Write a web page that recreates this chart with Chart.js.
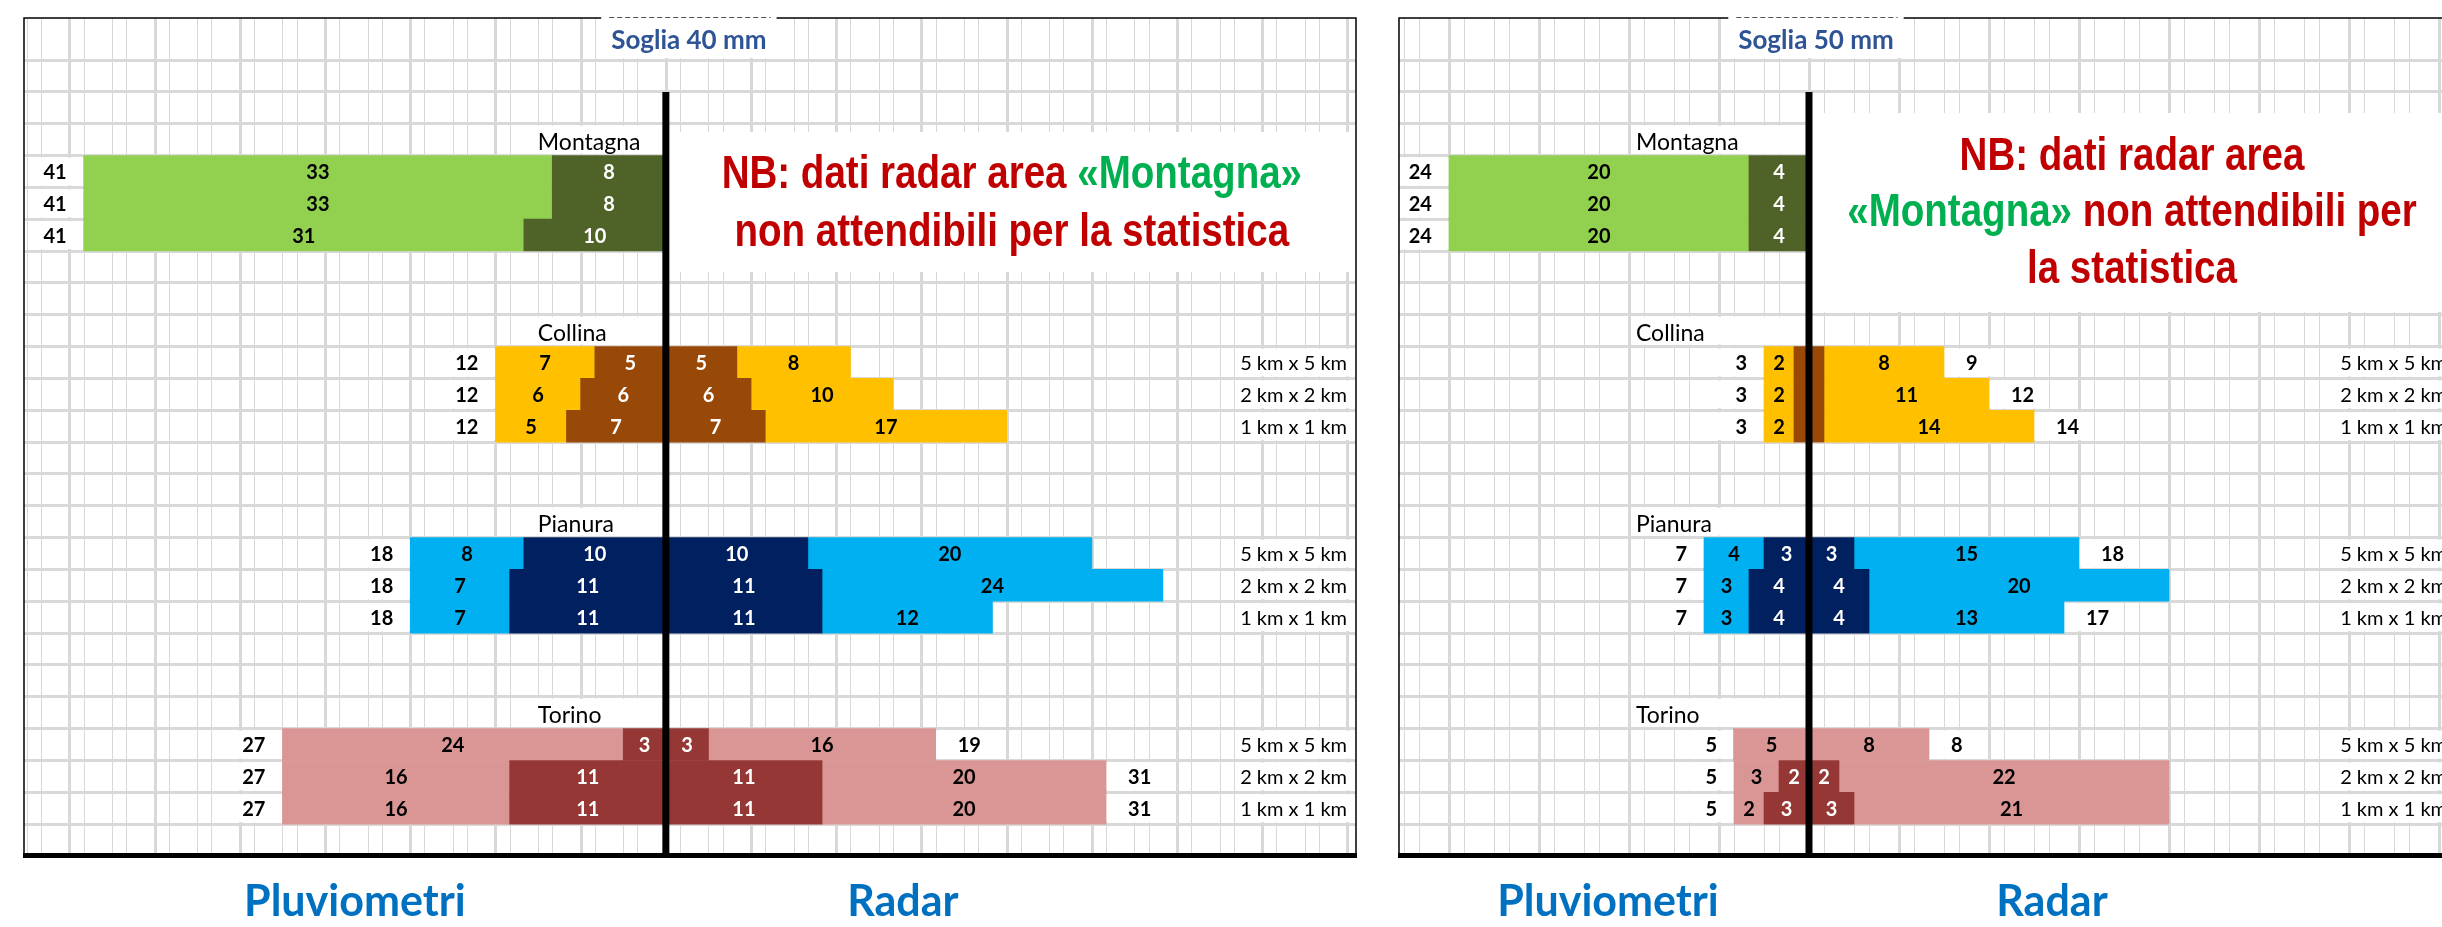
<!DOCTYPE html>
<html lang="it">
<head>
<meta charset="utf-8">
<title>Pluviometri e Radar - Soglia 40 mm / 50 mm</title>
<script src="https://cdn.jsdelivr.net/npm/chart.js@4.4.1/dist/chart.umd.min.js"></script>
<style>
  html, body { margin: 0; padding: 0; background: #fff; overflow: hidden; }
  body { width: 2442px; height: 927px; position: relative; }
  .pannello { position: absolute; top: 0; height: 927px; }
  #p40 { left: 0; width: 1380px; }
  #p50 { left: 1380px; width: 1100px; }
</style>
</head>
<body>
<div class="pannello" id="p40"><canvas id="grafico40"></canvas></div>
<div class="pannello" id="p50"><canvas id="grafico50"></canvas></div>
<script>
const aree = ["Montagna", "Collina", "Pianura", "Torino"];
const risoluzioni = ["5 km x 5 km", "2 km x 2 km", "1 km x 1 km"];

// soglia 40 mm, per area: 5 km, 2 km, 1 km
const pluvTotali40 = [41, 41, 41, 12, 12, 12, 18, 18, 18, 27, 27, 27];
const soloPluv40 = [33, 33, 31, 7, 6, 5, 8, 7, 7, 24, 16, 16];
const comuni40 = [8, 8, 10, 5, 6, 7, 10, 11, 11, 3, 11, 11];
const soloRadar40 = [null, null, null, 8, 10, 17, 20, 24, 12, 16, 20, 20];
const radarTotali40 = [null, null, null, null, null, null, null, null, null, 19, 31, 31];

// soglia 50 mm
const pluvTotali50 = [24, 24, 24, 3, 3, 3, 7, 7, 7, 5, 5, 5];
const soloPluv50 = [20, 20, 20, 2, 2, 2, 4, 3, 3, 5, 3, 2];
const comuni50 = [4, 4, 4, 1, 1, 1, 3, 4, 4, 0, 2, 3];
const soloRadar50 = [null, null, null, 8, 11, 14, 15, 20, 13, 8, 22, 21];
const radarTotali50 = [null, null, null, 9, 12, 14, 18, null, 17, 8, null, null];

const coloriChiari = ["#92D050", "#FFC000", "#00B0F0", "#DA9694"];
const coloriScuri = ["#4F6228", "#984807", "#002060", "#953735"];
const rosso = "#C00000", verde = "#00B050";

const CORNICE_TOP = 18;
const LINEA_TOP = 92;
const FONT_NUMERI = "bold 20px Lato";
const FONT_RIS = "20px Lato";
const FONT_AREA = "23px Lato";
const FONT_TITOLO = "bold 26px Lato";
const FONT_BASSO = "bold 43px Lato";

// righe del foglio: 2 vuote, nome area, 3 risoluzioni ... + 1 vuota finale
const righe = [];
aree.forEach((area, a) => {
    righe.push({ tipo: "vuota" }, { tipo: "vuota" }, { tipo: "area", area: a });
    risoluzioni.forEach((r, k) => righe.push({ tipo: "barra", area: a, k: k, i: a * 3 + k }));
});
righe.push({ tipo: "vuota" });

function perRiga(valori, segno, filtro) {
    return righe.map(r => {
        if (r.tipo !== "barra" || valori[r.i] == null) return null;
        if (filtro && filtro[r.i] == null) return null;
        return segno * valori[r.i];
    });
}

function colore(ctx, scuro) {
    const r = righe[ctx.dataIndex];
    if (!r || r.tipo !== "barra") return "rgba(0,0,0,0)";
    return scuro ? coloriScuri[r.area] : coloriChiari[r.area];
}

function fontStretto(ctx, size) {
    ctx.font = `bold ${size}px "Liberation Sans Narrow", "Liberation Sans"`;
    const w1 = ctx.measureText("NB: dati radar area").width;
    ctx.font = `bold ${size}px "Liberation Sans"`;
    const w2 = ctx.measureText("NB: dati radar area").width;
    if (w1 < w2 * 0.9) return { font: `bold ${size}px "Liberation Sans Narrow"`, sx: 1 };
    return { font: `bold ${size}px "Liberation Sans"`, sx: 0.82 };
}

function rigaNB(ctx, pezzi, xc, yc, f) {
    ctx.font = f.font;
    const tot = pezzi.reduce((s, g) => s + ctx.measureText(g[0]).width, 0);
    ctx.save();
    ctx.translate(xc - tot * f.sx / 2, yc);
    ctx.scale(f.sx, 1);
    ctx.textAlign = "left";
    ctx.textBaseline = "middle";
    let xx = 0;
    pezzi.forEach(g => {
        ctx.fillStyle = g[1];
        ctx.fillText(g[0], xx, 0);
        xx += ctx.measureText(g[0]).width;
    });
    ctx.restore();
}

function creaFoglio(p) {
    return {
        id: "foglio",
        beforeDatasetsDraw(chart) {
            const { ctx, chartArea: ca, scales: { x, y } } = chart;
            const cx = x.getPixelForValue(0);
            const h = y.getPixelForValue(1) - y.getPixelForValue(0);
            ctx.save();
            // colonne del foglio
            for (let v = Math.ceil(x.min); v <= Math.floor(x.max); v++) {
                const m = ((v % 3) + 3) % 3;
                if (m === 2) continue;
                const px = Math.round(x.getPixelForValue(v)) + 0.5;
                ctx.beginPath();
                ctx.strokeStyle = "#d8d8d8";
                ctx.lineWidth = (((v % 6) + 6) % 6 === 0) ? 3 : 1;
                ctx.moveTo(px, CORNICE_TOP);
                ctx.lineTo(px, ca.bottom);
                ctx.stroke();
            }
            ctx.fillStyle = "#fff";
            ctx.font = FONT_TITOLO;
            const wt = ctx.measureText(p.titolo).width + 20;
            ctx.fillRect(cx + p.titoloDx - wt / 2, CORNICE_TOP, wt, ca.top - CORNICE_TOP - 2);
            ctx.fillRect(cx + 3, p.nb.top, ca.right - cx - 3, p.nb.bottom - p.nb.top);
            righe.forEach((r, j) => {
                const yc = y.getPixelForValue(j);
                const y0 = yc - h / 2 + 2, hh = h - 4;
                if (r.tipo === "area") ctx.fillRect(cx + p.areaDx - 4, y0, -p.areaDx + 1, hh);
                if (r.tipo !== "barra") return;
                const i = r.i;
                const inizio = x.getPixelForValue(-(p.comuni[i] + p.soloPluv[i]));
                const da = Math.max(ca.left + 1, inizio - 50);
                ctx.fillRect(da, y0, inizio - da, hh);
                if (p.soloRadar[i] != null) {
                    ctx.fillRect(ca.right - 120, y0, 119, hh);
                    if (p.radarTot[i] != null) {
                        ctx.fillRect(x.getPixelForValue(p.comuni[i] + p.soloRadar[i]), y0, 54, hh);
                    }
                }
            });
            ctx.restore();
        },
        afterDatasetsDraw(chart) {
            const { ctx, chartArea: ca, scales: { x, y } } = chart;
            const cx = x.getPixelForValue(0);
            ctx.save();
            ctx.textBaseline = "middle";

            // valori dentro i segmenti
            ctx.font = FONT_NUMERI;
            ctx.textAlign = "center";
            chart.data.datasets.forEach((ds, d) => {
                chart.getDatasetMeta(d).data.forEach((el, j) => {
                    const v = ds.data[j];
                    if (v == null || Math.abs(el.x - el.base) < 24) return;
                    ctx.fillStyle = ds.scuro ? "#fff" : "#000";
                    ctx.fillText(String(Math.abs(v)), (el.x + el.base) / 2, el.y + 1);
                });
            });

            // totali, nomi aree, risoluzioni
            ctx.fillStyle = "#000";
            righe.forEach((r, j) => {
                const yc = y.getPixelForValue(j) + 1;
                if (r.tipo === "area") {
                    ctx.font = FONT_AREA;
                    ctx.textAlign = "left";
                    ctx.fillText(aree[r.area], cx + p.areaDx, yc + 2);
                }
                if (r.tipo !== "barra") return;
                const i = r.i;
                ctx.font = FONT_NUMERI;
                ctx.textAlign = "right";
                ctx.fillText(String(p.pluvTot[i]), x.getPixelForValue(-(p.comuni[i] + p.soloPluv[i])) - 17, yc);
                if (p.soloRadar[i] == null) return;
                if (p.radarTot[i] != null) {
                    ctx.textAlign = "left";
                    ctx.fillText(String(p.radarTot[i]), x.getPixelForValue(p.comuni[i] + p.soloRadar[i]) + 22, yc);
                }
                ctx.font = FONT_RIS;
                ctx.textAlign = "right";
                ctx.fillText(risoluzioni[r.k], ca.right - 9, yc);
            });

            // linea centrale
            ctx.fillStyle = "#000";
            ctx.fillRect(cx - 3.5, LINEA_TOP, 7, ca.bottom - LINEA_TOP);

            // cornice
            ctx.strokeStyle = "#000";
            ctx.lineWidth = 1.5;
            ctx.beginPath();
            ctx.moveTo(ca.left, ca.bottom);
            ctx.lineTo(ca.left, CORNICE_TOP);
            ctx.lineTo(ca.right, CORNICE_TOP);
            ctx.lineTo(ca.right, ca.bottom);
            ctx.stroke();
            ctx.fillRect(ca.left - 1, ca.bottom - 3, ca.right - ca.left + 2, 5);

            // titolo soglia
            const tx = cx + p.titoloDx;
            ctx.font = FONT_TITOLO;
            ctx.textAlign = "center";
            const wt = ctx.measureText(p.titolo).width + 20;
            ctx.fillStyle = "#fff";
            ctx.fillRect(tx - wt / 2, CORNICE_TOP - 2, wt, 4);
            ctx.strokeStyle = "#555";
            ctx.lineWidth = 1;
            ctx.setLineDash([5, 3]);
            ctx.beginPath();
            ctx.moveTo(tx - wt / 2 + 8, CORNICE_TOP - 0.5);
            ctx.lineTo(tx + wt / 2 - 6, CORNICE_TOP - 0.5);
            ctx.stroke();
            ctx.setLineDash([]);
            ctx.fillStyle = "#2F5496";
            ctx.fillText(p.titolo, tx, 41);

            // nota
            const f = fontStretto(ctx, 47);
            p.nb.righe.forEach((pezzi, k) => rigaNB(ctx, pezzi, cx + p.nb.dx, p.nb.y[k], f));

            // etichette in basso
            ctx.font = FONT_BASSO;
            ctx.textAlign = "center";
            ctx.textBaseline = "middle";
            ctx.fillStyle = "#0070C0";
            ctx.fillText("Pluviometri", cx + p.pluvDx, 902);
            ctx.fillText("Radar", cx + p.radarDx, 902);
            ctx.restore();
        }
    };
}

function creaGrafico(p) {
    return new Chart(document.getElementById(p.canvas), {
        type: "bar",
        data: {
            labels: righe.map(r => r.tipo === "area" ? aree[r.area] : (r.tipo === "barra" ? risoluzioni[r.k] : "")),
            datasets: [
                { label: "Comuni (pluviometri)", data: perRiga(p.comuni, -1), scuro: true, backgroundColor: c => colore(c, true) },
                { label: "Solo pluviometri", data: perRiga(p.soloPluv, -1), scuro: false, backgroundColor: c => colore(c, false) },
                { label: "Comuni (radar)", data: perRiga(p.comuni, 1, p.soloRadar), scuro: true, backgroundColor: c => colore(c, true) },
                { label: "Solo radar", data: perRiga(p.soloRadar, 1), scuro: false, backgroundColor: c => colore(c, false) }
            ]
        },
        options: {
            indexAxis: "y",
            responsive: true,
            maintainAspectRatio: false,
            animation: false,
            layout: { padding: { left: p.padSx, right: p.padDx, top: 60, bottom: 71 } },
            datasets: { bar: { barPercentage: 1, categoryPercentage: 1, borderWidth: 0, borderSkipped: false } },
            plugins: { legend: { display: false }, tooltip: { enabled: false } },
            scales: {
                x: { type: "linear", display: false, stacked: true, min: p.min, max: p.max },
                y: {
                    stacked: true,
                    offset: true,
                    ticks: { display: false },
                    border: { display: false },
                    grid: { color: "#d9d9d9", lineWidth: 3, drawTicks: false, offset: true }
                }
            }
        },
        plugins: [creaFoglio(p)]
    });
}

creaGrafico({
    canvas: "grafico40", titolo: "Soglia 40 mm",
    pluvTot: pluvTotali40, soloPluv: soloPluv40, comuni: comuni40, soloRadar: soloRadar40, radarTot: radarTotali40,
    min: -45.2, max: 48.6, padSx: 24, padDx: 24,
    areaDx: -128, titoloDx: 23, pluvDx: -311, radarDx: 237,
    nb: {
        top: 132, bottom: 272, dx: 346, y: [175, 233],
        righe: [
            [["NB: dati radar area ", rosso], ["«Montagna»", verde]],
            [["non attendibili per la statistica", rosso]]
        ]
    }
});

creaGrafico({
    canvas: "grafico50", titolo: "Soglia 50 mm",
    pluvTot: pluvTotali50, soloPluv: soloPluv50, comuni: comuni50, soloRadar: soloRadar50, radarTot: radarTotali50,
    min: -27.33, max: 43.13, padSx: 19, padDx: 24,
    areaDx: -173, titoloDx: 7, pluvDx: -201, radarDx: 243,
    nb: {
        top: 113, bottom: 312, dx: 323, y: [157, 213, 270],
        righe: [
            [["NB: dati radar area", rosso]],
            [["«Montagna»", verde], [" non attendibili per", rosso]],
            [["la statistica", rosso]]
        ]
    }
});
</script>
</body>
</html>
